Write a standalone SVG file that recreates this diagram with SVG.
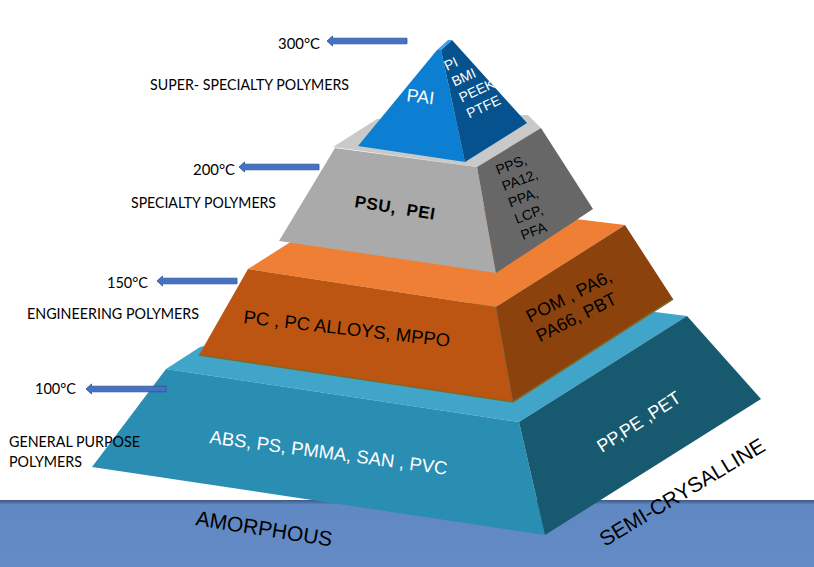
<svg xmlns="http://www.w3.org/2000/svg" xmlns:xlink="http://www.w3.org/1999/xlink" width="814" height="567" viewBox="0 0 814 567">
<defs>
<linearGradient id="band" x1="0" y1="500" x2="0" y2="567" gradientUnits="userSpaceOnUse">
<stop offset="0" stop-color="#3f5784"/>
<stop offset="0.07" stop-color="#6088c2"/>
<stop offset="1" stop-color="#648bc5"/>
</linearGradient>
<path id="arr" d="M0,0 L5.5,-5 L5.5,-2.8 L80,-2.8 L80,2.8 L5.5,2.8 L5.5,5 Z"/>
</defs>
<style>
.lbl{font-family:Lato,"Liberation Sans",sans-serif;font-size:16px;fill:#000}
.arrow{fill:#4472c4;stroke:#2f528f;stroke-width:0.8}
.t{font-family:"Liberation Sans",Arial,sans-serif}
.w{fill:#fff}
.k{fill:#000}
</style>
<rect x="0" y="0" width="814" height="567" fill="#fff"/>
<rect id="ground" x="0" y="500" width="814" height="67" fill="url(#band)"/>

<g id="tier-general">
<polygon points="166,369 200,347 400,300 647,311 687,316 519,422" fill="#40a5c8"/>
<polygon points="166,369 519,422 545,535 92,467" fill="#2a8db2"/>
<polygon points="519,422 687,316 761,399 545,535" fill="#175a70"/>
</g>

<g id="tier-engineering">
<polygon points="248,269 300,236 420,200 625,225 496,307" fill="#ee7f34"/>
<polygon points="248,269 496,307 513,402 199,355" fill="#bb5511"/>
<polygon points="496,307 625,225 673,299 513,402" fill="#8b420d"/>
<polyline points="199,355 513,402 673,299" fill="none" stroke="#7d6a2a" stroke-width="1.6"/>
</g>

<g id="tier-specialty">
<polygon points="333,147 377,119 528,115 541,128 477,167" fill="#c9c9c9"/>
<polygon points="335,148 477,167 496,273 279,241" fill="#aaaaaa"/>
<polygon points="477,167 541,128 593,209 496,273" fill="#676767"/>
</g>

<g id="tier-super">
<polygon points="437,50 358,146 465,162 441,50" fill="#0c7fd2"/>
<polygon points="441,50 452,40 527,123 465,162" fill="#06528f"/>
<polygon points="437,50 448,40 452,40 441,50" fill="#3aa0ea"/>
</g>

<g id="arrows">
<use xlink:href="#arr" href="#arr" class="arrow" transform="translate(327,41)"/>
<use xlink:href="#arr" href="#arr" class="arrow" transform="translate(239,167)"/>
<use xlink:href="#arr" href="#arr" class="arrow" transform="translate(157,281)"/>
<use xlink:href="#arr" href="#arr" class="arrow" transform="translate(86,389)"/>
</g>

<g id="left-labels">
<text class="lbl" x="278" y="49" textLength="42" lengthAdjust="spacingAndGlyphs">300°C</text>
<text class="lbl" x="150" y="90" textLength="199" lengthAdjust="spacingAndGlyphs">SUPER- SPECIALTY POLYMERS</text>
<text class="lbl" x="193" y="175" textLength="42" lengthAdjust="spacingAndGlyphs">200°C</text>
<text class="lbl" x="131" y="208" textLength="145" lengthAdjust="spacingAndGlyphs">SPECIALTY POLYMERS</text>
<text class="lbl" x="107" y="288" textLength="41" lengthAdjust="spacingAndGlyphs">150°C</text>
<text class="lbl" x="27" y="319" textLength="172" lengthAdjust="spacingAndGlyphs">ENGINEERING POLYMERS</text>
<text class="lbl" x="35" y="394" textLength="41" lengthAdjust="spacingAndGlyphs">100°C</text>
<text class="lbl" x="9" y="447" textLength="131" lengthAdjust="spacingAndGlyphs">GENERAL PURPOSE</text>
<text class="lbl" x="9" y="467" textLength="73" lengthAdjust="spacingAndGlyphs">POLYMERS</text>
</g>

<g id="pyramid-labels">
<text class="t w" font-size="18" transform="translate(406,101) rotate(7)">PAI</text>
<text class="t w" font-size="14" transform="translate(447,71) rotate(-25)"><tspan x="0" y="0">PI</tspan><tspan x="0" y="17.5">BMI</tspan><tspan x="0" y="35">PEEK</tspan><tspan x="0" y="52.5">PTFE</tspan></text>
<text class="t k" font-size="17" font-weight="bold" letter-spacing="0.6" word-spacing="5" transform="translate(354,207) rotate(9)">PSU, PEI</text>
<text class="t k" font-size="14" transform="translate(498,175) rotate(-21)"><tspan x="0" y="0">PPS,</tspan><tspan x="0" y="17.5">PA12,</tspan><tspan x="0" y="35">PPA,</tspan><tspan x="0" y="52.5">LCP,</tspan><tspan x="0" y="70">PFA</tspan></text>
<text class="t k" font-size="18.5" transform="translate(243,323) rotate(6.6)">PC , PC ALLOYS, MPPO</text>
<text class="t k" font-size="18" transform="translate(530,323) rotate(-27)"><tspan x="0" y="0">POM , PA6,</tspan><tspan x="0" y="22">PA66, PBT</tspan></text>
<text class="t w" font-size="18.5" transform="translate(209,443) rotate(7.6)">ABS, PS, PMMA, SAN , PVC</text>
<text class="t w" font-size="18" transform="translate(602,453) rotate(-33)">PP,PE ,PET</text>
<text class="t k" font-size="21" transform="translate(195,525) rotate(9)">AMORPHOUS</text>
<text class="t k" font-size="21" transform="translate(605,547) rotate(-31)">SEMI-CRYSALLINE</text>
</g>
</svg>
